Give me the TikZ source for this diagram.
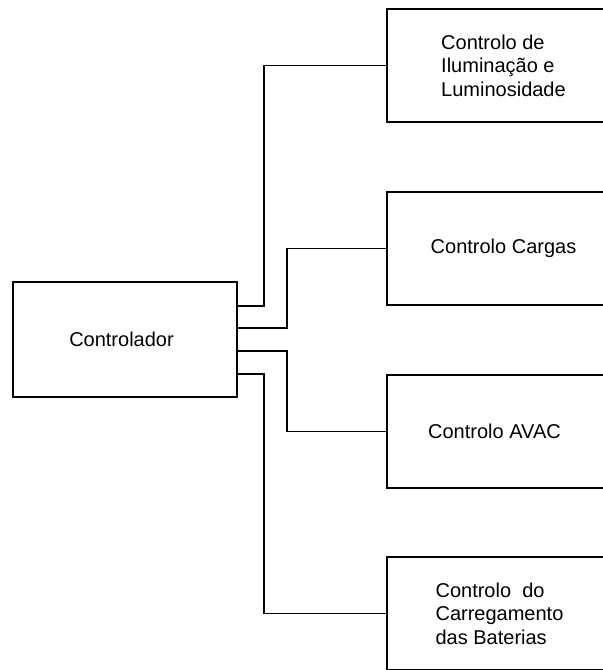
\documentclass[tikz,border=0pt]{standalone}
\usepackage{fontspec}
\setmainfont{Liberation Sans}
\usetikzlibrary{calc,positioning}

\begin{document}
\begin{tikzpicture}[x=0.5pt,y=-0.5pt,line width=0.65pt,
  ctrlbox/.style={draw,rectangle,minimum width=112pt,minimum height=57.5pt,inner sep=0pt},
  subbox/.style={draw,rectangle,minimum width=116.5pt,minimum height=56.5pt,inner sep=0pt,align=left},
  txt/.style={font=\fontsize{10}{11.8}\selectfont}]
\useasboundingbox(0,0)rectangle(602,670);
\node[ctrlbox,txt](ctrl)at(125,339.5){\hspace*{-3.5pt}Controlador};
\node[subbox,txt](lum)at(503.5,65.5){Controlo de\\Iluminação e\\Luminosidade};
\node[subbox,txt](carg)at(503.5,248.5){Controlo Cargas};
\node[subbox,txt](avac)at(503.5,431.5){\hspace*{-9pt}Controlo AVAC};
\node[subbox,txt](bat)at(503.5,613.5){\hspace*{-4pt}Controlo\ \ do\\\hspace*{-4pt}Carregamento\\\hspace*{-4pt}das Baterias};
\coordinate(j1)at(264,306);
\coordinate(j2)at(287,328);
\coordinate(j3)at(287,351);
\coordinate(j4)at(264,374);
\draw(j1-|ctrl.east)--(j1)|-(lum.west);
\draw(j2-|ctrl.east)--(j2)|-(carg.west);
\draw(j3-|ctrl.east)--(j3)|-(avac.west);
\draw(j4-|ctrl.east)--(j4)|-(bat.west);
\end{tikzpicture}
\end{document}
